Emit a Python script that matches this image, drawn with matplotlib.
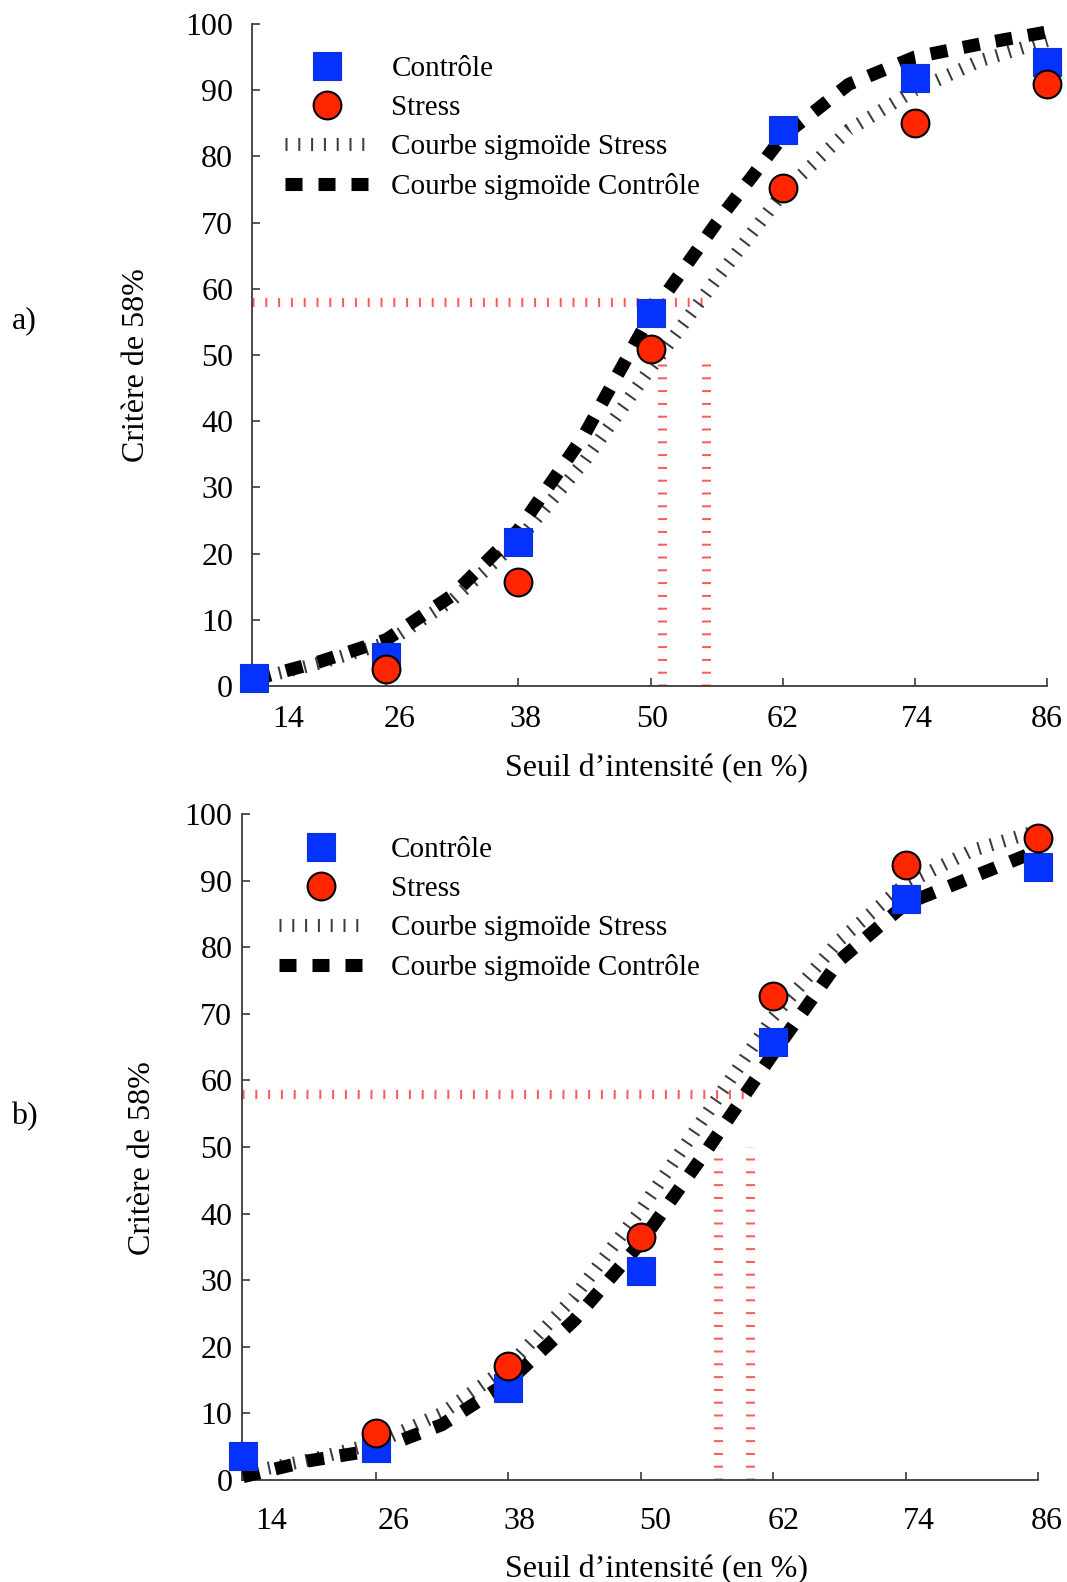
import matplotlib
matplotlib.use("Agg")
import matplotlib.pyplot as plt
from matplotlib.transforms import ScaledTranslation
import numpy as np

plt.rcParams['font.family'] = ['Liberation Serif', 'DejaVu Serif']

# ---------------- data ----------------
x_ticks = [14, 26, 38, 50, 62, 74, 86]
tick_labels = ["14", "26", "38", "50", "62", "74", "86"]

# panel a
a_controle = [1.2, 4.4, 21.8, 56.4, 84.0, 91.8, 94.2]
a_stress = [np.nan, 2.6, 15.7, 50.9, 75.2, 85.0, 90.9]
curve_x = [14, 20, 26, 32, 38, 44, 50, 56, 62, 68, 74, 80, 86]
a_curve_controle = [1.0, 3.7, 7.0, 13.7, 23.6, 38.0, 56.0, 70.0, 83.0, 90.9, 95.0, 97.0, 98.8]
a_curve_stress = [1.0, 3.5, 6.5, 13.0, 22.0, 34.0, 48.0, 61.5, 74.5, 84.0, 90.0, 94.5, 97.5]
a_seuil = [51.0, 55.0]

# panel b
b_controle = [3.6, 4.8, 13.8, 31.4, 65.8, 87.3, 92.0]
b_stress = [np.nan, 7.0, 17.1, 36.5, 72.6, 92.3, 96.4]
b_curve_controle = [0.5, 2.9, 4.5, 8.3, 14.7, 24.0, 35.6, 49.5, 64.0, 78.0, 86.5, 90.5, 94.5]
b_curve_stress = [1.0, 3.0, 5.5, 10.0, 17.0, 27.5, 40.5, 55.0, 69.5, 81.0, 89.5, 94.5, 97.5]
b_seuil = [57.0, 59.9]

critere = 58
critere_vert_top = 50

labels = ["Contrôle", "Stress", "Courbe sigmoïde Stress", "Courbe sigmoïde Contrôle"]
xlabel = "Seuil d’intensité (en %)"
ylabel = "Critère de 58%"

# ---------------- style ----------------
W, H = 1067, 1582
DPI = 100
fig = plt.figure(figsize=(W / DPI, H / DPI), dpi=DPI)

BLUE = "#0433FF"
RED = "#FF2600"
RED_LINE = "#FF5A5A"
AXC = "#3a3a3a"
FS = 23
LFS = 21

LW_C = 9.4
LW_S = 9.4
LW_R = 6.5

def px(p):  # pixels -> points
    return p * 72.0 / DPI

def axes_rect(l, r, b, t):
    return [l / W, 1 - b / H, (r - l) / W, (b - t) / H]

panels = [
    dict(rect=axes_rect(252, 1047, 686, 24), xlim=(13.8, 86),
         ctrl=a_controle, strs=a_stress, cc=a_curve_controle, cs=a_curve_stress,
         seuil=a_seuil, letter="a)", letter_xy=(24, 321), ylab_x=135 * 1067 / 1058,
         ylab_y=362 * 1582 / 1568, xlab_y=762 * 1582 / 1568,
         xoff=[34, 13, 7, 2, 0, 2, 0], ypad=13.5, xpad=14,
         leg_anchor=(285, 56), htp=0.8),
    dict(rect=axes_rect(242, 1038, 1480, 814), xlim=(13.9, 86),
         ctrl=b_controle, strs=b_stress, cc=b_curve_controle, cs=b_curve_stress,
         seuil=b_seuil, letter="b)", letter_xy=(24, 1117), ylab_x=141 * 1067 / 1058,
         ylab_y=1148 * 1582 / 1568, xlab_y=1556 * 1582 / 1568,
         xoff=[28, 18, 11, 15, 11, 13, 9], ypad=7, xpad=19.5,
         leg_anchor=(279, 837), htp=0.98),
]

for p in panels:
    ax = fig.add_axes(p["rect"])
    ax.set_xlim(*p["xlim"])
    ax.set_ylim(0, 100)
    for s in ["top", "right"]:
        ax.spines[s].set_visible(False)
    for s in ["left", "bottom"]:
        ax.spines[s].set_color(AXC)
        ax.spines[s].set_linewidth(1.3)

    # red threshold guides
    ax.plot([p["xlim"][0], p["seuil"][1]], [critere, critere], color=RED_LINE,
            lw=LW_R, linestyle=(0, (px(2) / LW_R, px(10.8) / LW_R)), zorder=1)
    for sx in p["seuil"]:
        ax.plot([sx, sx], [0, critere_vert_top], color=RED_LINE, lw=LW_R,
                linestyle=(0, (px(2) / LW_R, px(10.8) / LW_R)), zorder=1)

    # sigmoid curves
    l_s, = ax.plot(curve_x, p["cs"], color="#3c3c3c", lw=LW_S,
                   linestyle=(0, (px(2) / LW_S, px(10.8) / LW_S)), zorder=2,
                   clip_on=False)
    l_c, = ax.plot(curve_x, p["cc"], color="black", lw=LW_C,
                   linestyle=(0, (px(17) / LW_C, px(16) / LW_C)), zorder=3,
                   clip_on=False)

    # markers
    m_c, = ax.plot(x_ticks, p["ctrl"], linestyle="none", marker="s", ms=20,
                   mfc=BLUE, mec="#1030d0", mew=0.8, zorder=4, clip_on=False)
    m_s, = ax.plot(x_ticks, p["strs"], linestyle="none", marker="o", ms=20,
                   mfc=RED, mec="black", mew=1.5, zorder=5, clip_on=False)

    ax.set_xticks(x_ticks)
    ax.set_xticklabels(tick_labels)
    ax.set_yticks(np.arange(0, 101, 10))
    ax.tick_params(axis="both", direction="in", length=6, width=1.2, color=AXC,
                   labelsize=FS)
    ax.tick_params(axis="y", pad=p["ypad"])
    ax.tick_params(axis="x", pad=p["xpad"])
    for lab, off in zip(ax.get_xticklabels(), p["xoff"]):
        lab.set_transform(lab.get_transform() + ScaledTranslation(off / DPI, 0, fig.dpi_scale_trans))

    # legend
    leg_handles = [m_c, m_s, l_s, l_c]
    lx, ly = p["leg_anchor"]
    ax.legend(leg_handles, labels, loc="upper left",
              bbox_to_anchor=(lx / W, 1 - ly / H), bbox_transform=fig.transFigure,
              frameon=False, fontsize=LFS, handlelength=2.85, handletextpad=p["htp"],
              labelspacing=0.43, borderpad=0, borderaxespad=0, numpoints=1)

    # labels
    fig.text(p["ylab_x"] / W, 1 - p["ylab_y"] / H, ylabel, rotation=90,
             ha="center", va="center", fontsize=FS)
    fig.text((651 * 1067 / 1058) / W, 1 - p["xlab_y"] / H, xlabel,
             ha="center", va="center", fontsize=FS)
    fig.text(p["letter_xy"][0] / W, 1 - p["letter_xy"][1] / H, p["letter"],
             ha="center", va="center", fontsize=FS)

fig.savefig("out.png", dpi=DPI)
